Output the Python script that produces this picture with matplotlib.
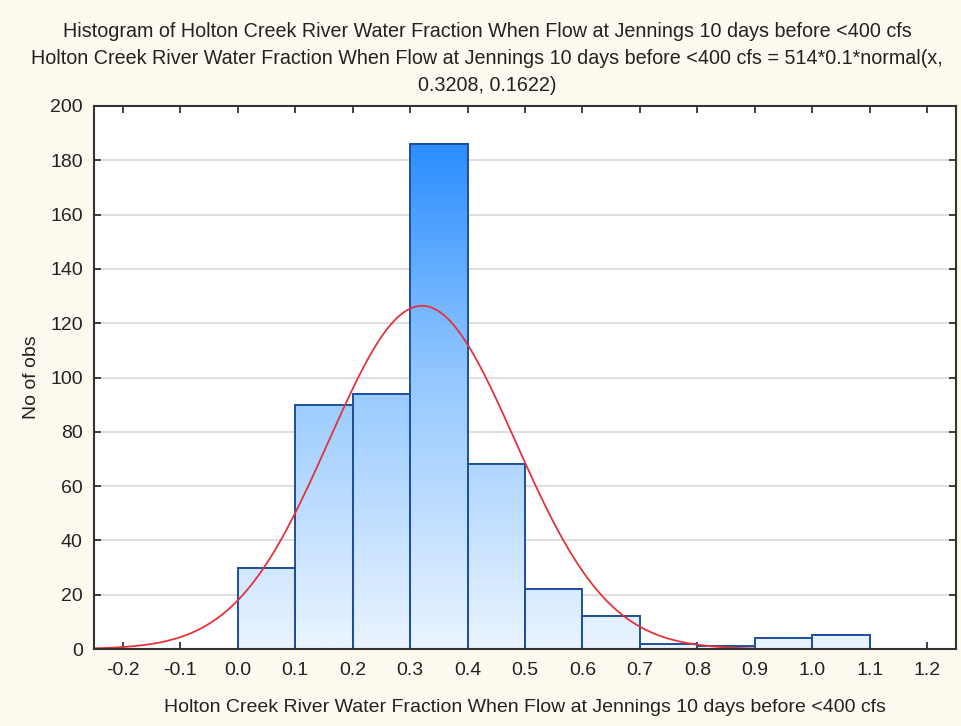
import numpy as np
import matplotlib
matplotlib.use('Agg')
import matplotlib.pyplot as plt
from matplotlib.colors import LinearSegmentedColormap

plt.rcParams['font.family'] = ['Liberation Sans', 'DejaVu Sans']

# histogram bins (lower edges) and counts
bin_left = [0.0, 0.1, 0.2, 0.3, 0.4, 0.5, 0.6, 0.7, 0.8, 0.9, 1.0]
counts = [30, 90, 94, 186, 68, 22, 12, 2, 1, 4, 5]
bin_width = 0.1

# fitted normal: N * width * normal(x, mu, sigma)
n_obs = 514
mu = 0.3208
sigma = 0.1622

xticks = [-0.2, -0.1, 0.0, 0.1, 0.2, 0.3, 0.4, 0.5, 0.6, 0.7, 0.8, 0.9, 1.0, 1.1, 1.2]
yticks = [0, 20, 40, 60, 80, 100, 120, 140, 160, 180, 200]

bg = '#fdf9ee'
fs = 14
fig = plt.figure(figsize=(9.61, 7.26), dpi=100, facecolor=bg)
ax = fig.add_axes([0.0978, 0.106, 0.897, 0.748])
ax.set_facecolor('white')

ymax = 200
cmap = LinearSegmentedColormap.from_list('bars', ['#eaf4ff', '#94c8ff', '#1a84ff'])

for x0, h in zip(bin_left, counts):
    grad = np.linspace(0, h / ymax, 200).reshape(-1, 1)
    ax.imshow(grad, cmap=cmap, vmin=0, vmax=1, origin='lower', aspect='auto',
              extent=(x0, x0 + bin_width, 0, h), zorder=2, interpolation='bilinear')
    ax.bar(x0, h, width=bin_width, align='edge', facecolor='none',
           edgecolor='#1d4f9e', linewidth=1.4, zorder=3)

xs = np.linspace(-0.25, 0.9, 400)
ys = n_obs * bin_width * np.exp(-0.5 * ((xs - mu) / sigma) ** 2) / (sigma * np.sqrt(2 * np.pi))
ax.plot(xs, ys, color='#e3333b', linewidth=1.3, zorder=4)

ax.set_xlim(-0.25, 1.25)
ax.set_ylim(0, ymax)
ax.set_xticks(xticks)
ax.set_xticklabels([f'{t:.1f}' for t in xticks])
ax.set_yticks(yticks)
ax.grid(axis='y', color='#d9d9d9', linewidth=1.2, zorder=0)
ax.set_axisbelow(True)
ax.tick_params(direction='in', top=True, right=True, length=5, width=1.2,
               labelsize=fs, colors='#222222', pad=8)
ax.tick_params(axis='x', pad=9)
for s in ax.spines.values():
    s.set_color('#333333')
    s.set_linewidth(1.5)
    s.set_zorder(5)

ax.set_xlabel('Holton Creek River Water Fraction When Flow at Jennings 10 days before <400 cfs',
              fontsize=fs, color='#222222', labelpad=15)
ax.set_ylabel('No of obs', fontsize=fs, color='#222222', labelpad=7)

fig.text(0.507, 0.970,
         'Histogram of Holton Creek River Water Fraction When Flow at Jennings 10 days before <400 cfs\n'
         'Holton Creek River Water Fraction When Flow at Jennings 10 days before <400 cfs = 514*0.1*normal(x,\n'
         '0.3208, 0.1622)',
         ha='center', va='top', fontsize=14.2, color='#222222', linespacing=1.54)

fig.savefig('out.png', dpi=100, facecolor=bg)
